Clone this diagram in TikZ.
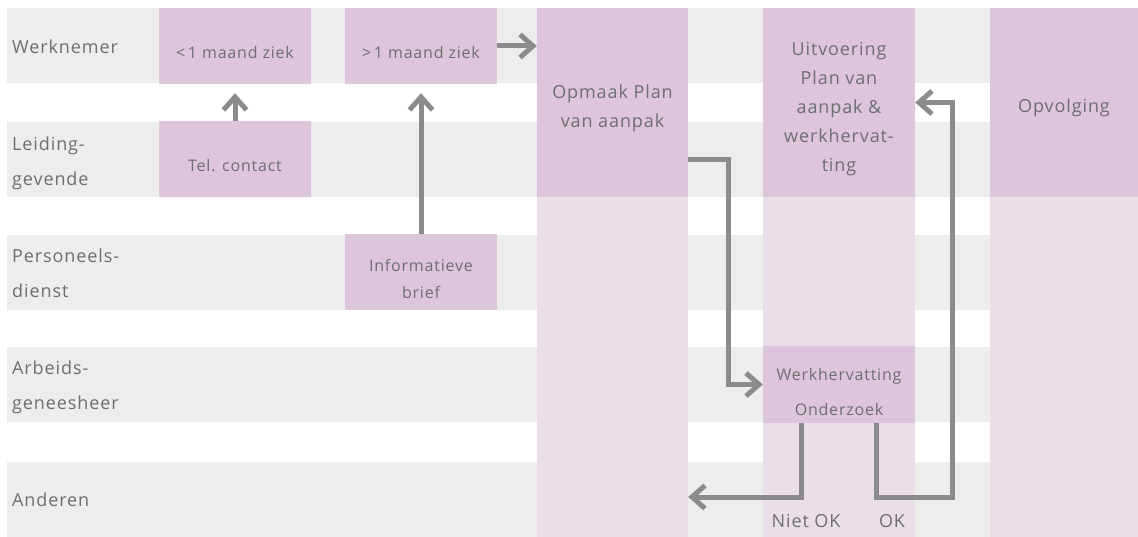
\documentclass[tikz,border=0pt]{standalone}
\usepackage{fontspec}
\setmainfont[LetterSpace=5]{Open Sans}
\usetikzlibrary{arrows.meta}
\definecolor{lanegrey}{HTML}{EDEDED}
\definecolor{pinklight}{HTML}{EADFE9}
\definecolor{pinkdark}{HTML}{DDC6DB}
\definecolor{flowgrey}{HTML}{8B8B8E}
\definecolor{textgrey}{HTML}{6E6E71}

\begin{document}
\begin{tikzpicture}[x=1pt,y=-1pt,line join=miter,
  lift/.style={execute at begin node={\rule{0pt}{#1}}},
  lane/.style={anchor=west,align=left,text=textgrey,inner sep=0pt,font=\fontsize{18}{35}\selectfont},
  taskbox/.style={fill=pinkdark,text=textgrey,inner sep=0pt,align=center,minimum width=152pt,minimum height=76pt,font=\fontsize{16}{27}\selectfont,lift=25pt},
  bigbox/.style={taskbox,minimum height=189pt,font=\fontsize{18}{29}\selectfont},
  flow/.style={draw=flowgrey,line width=5pt,-{Straight Barb[length=13pt,width=23pt]}},
  answer/.style={text=textgrey,inner sep=0pt,font=\fontsize{18}{20}\selectfont}]
\useasboundingbox (0,0) rectangle (1138,537);
\foreach \y in {8,122,235,347,462}
  \fill[lanegrey] (7,\y) rectangle (1138,\y+75);
\foreach \x/\w in {537/151,763/152,990/148}
  \fill[pinklight] (\x,8) rectangle (\x+\w,537);

\node[lane] (werknemer) at (12,47) {Werknemer};
\node[lane] (leiding) at (12,163) {Leiding-\\gevende};
\node[lane] (personeel) at (12,273) {Personeels-\\dienst};
\node[lane] (arbeid) at (12,387) {Arbeids-\\geneesheer};
\node[lane] (anderen) at (12,500) {Anderen};

\node[taskbox] (minder) at (235,46) {<\,1 maand ziek};
\node[taskbox] (tel) at (235,159.5) {Tel. contact};
\node[taskbox] (meer) at (421,46) {>\,1 maand ziek};
\node[taskbox,lift=52pt] (brief) at (421,272.5) {Informatieve\\brief};
\node[bigbox,lift=54pt,minimum width=151pt] (opmaak) at (612.5,102.5) {Opmaak Plan\\van aanpak};
\node[bigbox,lift=142pt] (uitvoering) at (839,102.5) {Uitvoering\\Plan van\\aanpak \&\\werkhervat-\\ting};
\node[bigbox,minimum width=148pt] (opvolging) at (1064,102.5) {Opvolging};
\node[taskbox,lift=62pt,font=\fontsize{16}{35}\selectfont] (onderzoek) at (839,384.5) {Werkhervatting\\Onderzoek};

\coordinate (okbocht) at (952,497);
\draw[flow,shorten >=9pt] (tel) -- (minder);
\draw[flow,shorten >=9pt] (brief) -- (meer);
\draw[flow] (meer) -- (meer -| opmaak.west);
\draw[flow] (opmaak.east |- tel) -- ++(40,0) |- (onderzoek);
\draw[flow] ([xshift=-38pt]onderzoek.south) |- (opmaak.east |- okbocht);
\draw[flow] ([xshift=37pt]onderzoek.south) |- (okbocht) |- (uitvoering.east);

\node[answer] (nietok) at (806,521) {Niet OK};
\node[answer] (ok) at (892,521) {OK};
\end{tikzpicture}
\end{document}
